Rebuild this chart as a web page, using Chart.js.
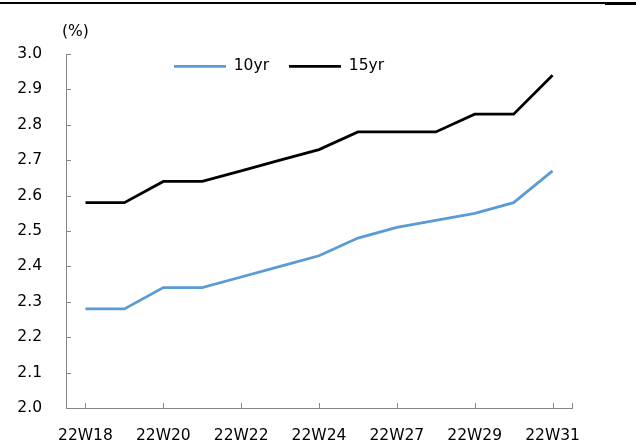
<!DOCTYPE html>
<html>
<head>
<meta charset="utf-8">
<title>10yr / 15yr</title>
<script src="https://cdn.jsdelivr.net/npm/chart.js@4.4.1/dist/chart.umd.min.js"></script>
<style>
  html, body { margin: 0; padding: 0; background: #fff; }
  #wrap { position: relative; width: 636px; height: 445px; }
  #chart { display: block; }
  .rule { position: absolute; background: #000; }
  #rule-thin { left: 0; top: 2px; width: 605px; height: 2px; }
  #rule-thick { left: 605px; top: 2px; width: 31px; height: 3px; }
</style>
</head>
<body>
<div id="wrap">
  <canvas id="chart" width="636" height="445"></canvas>
  <div class="rule" id="rule-thin"></div>
  <div class="rule" id="rule-thick"></div>
</div>
<script>
// Weekly categories (every other one is labelled on the axis)
const weeks = ['22W18', '22W19', '22W20', '22W21', '22W22', '22W23', '22W24',
               '22W25', '22W27', '22W28', '22W29', '22W30', '22W31'];

// Yields in percent
const yield10yr = [2.28, 2.28, 2.34, 2.34, 2.37, 2.40, 2.43, 2.48, 2.51, 2.53, 2.55, 2.58, 2.67];
const yield15yr = [2.58, 2.58, 2.64, 2.64, 2.67, 2.70, 2.73, 2.78, 2.78, 2.78, 2.83, 2.83, 2.94];

// Value axis range and step
const yMin = 2.0;
const yMax = 3.0;
const yStep = 0.1;

const FONT = { family: 'DejaVu Sans', size: 15.5, lineHeight: 1.2, weight: 'normal' };
const AXIS_COLOR = '#868686';

Chart.defaults.font.family = FONT.family;
Chart.defaults.color = '#000';

// Short tick marks drawn on the inner side of both axes
const innerTicks = {
  id: 'innerTicks',
  beforeDatasetsDraw(chart) {
    const { ctx, scales: { x, y } } = chart;
    const len = 5;
    ctx.save();
    ctx.strokeStyle = AXIS_COLOR;
    ctx.lineWidth = 1;
    ctx.beginPath();
    const xs = x.ticks.map((_, i) => x.getPixelForTick(i));
    xs.push(x.right);
    xs.forEach(px => {
      const p = Math.round(px) + 0.5;
      ctx.moveTo(p, y.bottom);
      ctx.lineTo(p, y.bottom - len);
    });
    y.ticks.forEach((_, i) => {
      const p = Math.round(y.getPixelForTick(i)) + 0.5;
      ctx.moveTo(x.left, p);
      ctx.lineTo(x.left + len, p);
    });
    ctx.stroke();
    ctx.restore();
  }
};

// Places the unit label and the legend inside the upper part of the plot
const placeHeader = {
  id: 'placeHeader',
  afterLayout(chart) {
    const t = chart.titleBlock;
    const tw = t.right - t.left;
    t.left = 62;
    t.right = t.left + tw;

    const lg = chart.legend;
    const lw = lg.right - lg.left;
    lg.left = 154;
    lg.right = lg.left + lw;
    lg.top = 38.5;
    lg.bottom = lg.top + 50;
  }
};

new Chart(document.getElementById('chart'), {
  type: 'line',
  data: {
    labels: weeks,
    datasets: [
      {
        label: '10yr',
        data: yield10yr,
        borderColor: '#5B9BD5',
        backgroundColor: '#5B9BD5',
        borderWidth: 2.75,
        pointRadius: 0,
        tension: 0
      },
      {
        label: '15yr',
        data: yield15yr,
        borderColor: '#000000',
        backgroundColor: '#000000',
        borderWidth: 2.75,
        pointRadius: 0,
        tension: 0
      }
    ]
  },
  options: {
    responsive: false,
    animation: false,
    layout: { padding: { left: 0, right: 64, top: 0, bottom: 0 } },
    plugins: {
      title: {
        display: true,
        text: '(%)',
        align: 'start',
        color: '#000',
        font: FONT,
        padding: { top: 23, bottom: 10.4 }
      },
      legend: {
        display: true,
        position: 'top',
        align: 'start',
        maxHeight: 2,
        labels: {
          usePointStyle: true,
          pointStyle: 'line',
          pointStyleWidth: 52,
          padding: 20,
          color: '#000',
          font: FONT
        }
      },
      tooltip: { enabled: false }
    },
    scales: {
      x: {
        type: 'category',
        offset: true,
        grid: { display: true, drawOnChartArea: false, drawTicks: false },
        border: { display: true, color: AXIS_COLOR, width: 1 },
        ticks: {
          autoSkip: false,
          maxRotation: 0,
          minRotation: 0,
          padding: 19,
          color: '#000',
          font: FONT,
          callback: (v, i) => (i % 2 === 0 ? weeks[i] : null)
        },
        afterFit(scale) { scale.height = 37; }
      },
      y: {
        min: yMin,
        max: yMax,
        grid: { display: true, drawOnChartArea: false, drawTicks: false },
        border: { display: true, color: AXIS_COLOR, width: 1 },
        ticks: {
          stepSize: yStep,
          padding: 24,
          color: '#000',
          font: FONT,
          callback: v => Number(v).toFixed(1)
        },
        afterFit(scale) { scale.width = 66; }
      }
    }
  },
  plugins: [innerTicks, placeHeader]
});
</script>
</body>
</html>
